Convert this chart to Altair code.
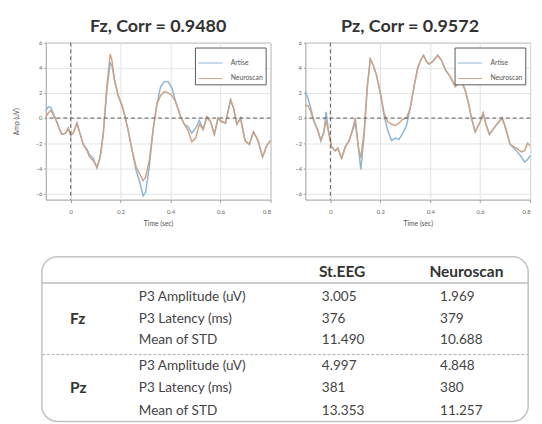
import altair as alt
import pandas as pd

# ---------------- data ----------------
fz_t = [-0.1, -0.09, -0.08, -0.06, -0.045, -0.035, -0.02, -0.01, 0.0, 0.012, 0.025, 0.035,
        0.05, 0.065, 0.075, 0.09, 0.105, 0.118, 0.13, 0.145, 0.158, 0.165, 0.175, 0.19,
        0.205, 0.215, 0.228, 0.246, 0.262, 0.275, 0.29, 0.3, 0.315, 0.33, 0.345, 0.36,
        0.375, 0.39, 0.405, 0.42, 0.44, 0.455, 0.47, 0.485, 0.5, 0.515, 0.53, 0.545,
        0.56, 0.575, 0.59, 0.605, 0.62, 0.64, 0.652, 0.665, 0.68, 0.698, 0.715, 0.732,
        0.75, 0.768, 0.785, 0.8]
fz_artise = [0.6, 0.9, 0.85, -0.1, -0.9, -1.3, -1.2, -0.8, -1.4, -1.1, -0.4, -1.1,
             -2.1, -2.5, -2.9, -3.2, -4.0, -3.1, -1.3, 2.3, 4.4, 4.2, 3.0, 1.8,
             1.0, 0.3, -0.8, -2.6, -4.2, -5.0, -6.2, -5.9, -3.8, -0.9, 1.1, 2.5,
             2.9, 2.9, 2.4, 1.3, 0.1, -0.5, -0.7, -1.2, -0.8, -0.2, -0.9, 0.1,
             -0.3, -1.3, 0.0, -0.3, -0.4, 1.5, 0.8, -0.5, 0.0, -1.8, -2.1, -1.1,
             -1.8, -3.1, -2.2, -1.8]
fz_neuro = [0.1, 0.4, 0.6, -0.1, -0.9, -1.3, -1.2, -0.8, -1.4, -1.1, -0.4, -1.1,
            -2.1, -2.6, -3.1, -3.4, -3.9, -3.1, -1.3, 2.6, 5.1, 4.6, 3.1, 1.8,
            1.0, 0.3, -0.8, -2.6, -3.9, -4.4, -5.0, -4.7, -3.3, -0.9, 1.1, 1.8,
            2.1, 2.0, 1.8, 1.3, 0.1, -0.5, -1.0, -1.9, -1.6, -0.5, -0.9, 0.1,
            -0.3, -1.3, 0.0, -0.3, -0.4, 1.4, 0.8, -0.5, 0.0, -1.8, -2.1, -1.1,
            -1.8, -3.1, -2.2, -1.8]

pz_t = [-0.1, -0.09, -0.08, -0.065, -0.05, -0.038, -0.026, -0.017, -0.007, 0.005, 0.02,
        0.03, 0.045, 0.06, 0.075, 0.085, 0.1, 0.112, 0.122, 0.135, 0.148, 0.16, 0.17,
        0.185, 0.2, 0.215, 0.23, 0.245, 0.26, 0.275, 0.29, 0.305, 0.32, 0.335, 0.35,
        0.362, 0.373, 0.385, 0.395, 0.41, 0.43, 0.445, 0.462, 0.48, 0.5, 0.515, 0.527,
        0.54, 0.553, 0.565, 0.58, 0.6, 0.612, 0.623, 0.637, 0.655, 0.675, 0.688, 0.7,
        0.72, 0.745, 0.765, 0.778, 0.79, 0.8]
pz_artise = [2.1, 1.6, 0.9, -0.3, -1.0, -1.8, -1.1, 0.5, -1.1, -2.3, -2.6,
             -2.4, -3.2, -2.3, -1.8, -1.2, -0.4, -2.3, -4.1, -1.5, 2.5, 4.7, 4.3,
             3.4, 2.0, 0.2, -1.0, -1.8, -1.6, -1.7, -1.2, -0.6, 0.8, 2.5, 4.0,
             4.6, 5.0, 4.5, 4.3, 4.5, 5.0, 4.6, 3.8, 3.3, 2.5, 2.8, 2.9,
             2.2, 1.2, 0.0, -1.1, -0.3, 0.4, -0.5, -1.3, -0.8, -0.3, 0.0, -0.7,
             -2.1, -2.6, -3.1, -3.5, -3.3, -3.0]
pz_neuro = [1.0, 1.0, 0.6, -0.3, -1.0, -1.8, -1.1, -0.2, -1.1, -2.3, -2.6,
            -2.4, -3.2, -2.3, -1.8, -1.2, 0.0, -2.3, -3.2, -1.1, 2.5, 4.7, 4.3,
            3.4, 2.0, 0.4, -0.3, -0.5, -0.6, -0.4, -0.1, 0.0, 0.8, 2.5, 4.0,
            4.6, 5.0, 4.5, 4.3, 4.5, 5.0, 4.6, 3.8, 3.3, 2.5, 2.8, 2.9,
            2.2, 1.2, 0.0, -1.1, -0.3, 0.4, -0.5, -1.3, -0.8, -0.3, 0.0, -0.7,
            -2.1, -2.4, -2.7, -2.6, -2.0, -2.2]

devices = ["Artise", "Neuroscan"]
titles = ["Fz, Corr = 0.9480", "Pz, Corr = 0.9572"]
x_ticks = [0, 0.2, 0.4, 0.6, 0.8]
y_ticks = [-6, -4, -2, 0, 2, 4, 6]

table_cols = ["St.EEG", "Neuroscan"]
table_groups = ["Fz", "Pz"]
table_metrics = ["P3 Amplitude (uV)", "P3 Latency (ms)", "Mean of STD"]
st_eeg_values = ["3.005", "376", "11.490", "4.997", "381", "13.353"]
neuroscan_values = ["1.969", "379", "10.688", "4.848", "380", "11.257"]

# ---------------- style / layout ----------------
FONT = "Lato"
W, H = 232, 162
BLUE, ORANGE = "#8db5d3", "#cfa284"
TW, TH = 498, 170


def panel(t, a, n, title, ytitle, title_dx):
    df = pd.DataFrame({
        "t": list(t) + list(t),
        "v": list(a) + list(n),
        "device": [devices[0]] * len(t) + [devices[1]] * len(t),
    })
    yaxis_kw = dict(values=y_ticks, tickCount=len(y_ticks), labelFontSize=6,
                    labelColor="#666", tickSize=2, tickColor="#999", domain=False,
                    gridColor="#e2e2e2", labelPadding=2, labelOverlap=False)
    if ytitle:
        yaxis_kw.update(title=ytitle, titleFontSize=7, titleColor="#555",
                        titleFontWeight="normal", titleX=-30, titleY=H / 2,
                        titleAngle=270, titleAlign="center", titleBaseline="middle")
    else:
        yaxis_kw.update(title="")
    lines = alt.Chart(df).mark_line(strokeWidth=1.5).encode(
        x=alt.X("t:Q", scale=alt.Scale(domain=[-0.1, 0.8], nice=False, zero=False),
                axis=alt.Axis(values=x_ticks, tickCount=len(x_ticks), format="~g",
                              title="Time (sec)", titleFontSize=7, titleColor="#555",
                              titleFontWeight="normal", labelFontSize=6, labelColor="#666",
                              tickSize=3, tickColor="#999", domain=False,
                              gridColor="#e2e2e2", labelPadding=6, titlePadding=6,
                              labelOverlap=False)),
        y=alt.Y("v:Q", scale=alt.Scale(domain=[-6.5, 6], nice=False, zero=False),
                axis=alt.Axis(**yaxis_kw)),
        color=alt.Color("device:N",
                        scale=alt.Scale(domain=devices, range=[BLUE, ORANGE]),
                        legend=alt.Legend(orient="top-right", title="", offset=5,
                                          strokeColor="#555", fillColor="white",
                                          padding=3, labelFontSize=7, labelColor="#555",
                                          symbolType="stroke", symbolSize=625,
                                          symbolStrokeWidth=1, rowPadding=0,
                                          labelOffset=8, labelFont=FONT)),
        order=alt.Order("device:N"),
    )
    zero = pd.DataFrame({"z": [0]})
    vrule = alt.Chart(zero).mark_rule(strokeDash=[4, 3], color="#555", strokeWidth=1).encode(x="z:Q")
    hrule = alt.Chart(zero).mark_rule(strokeDash=[4, 3], color="#555", strokeWidth=1).encode(y="z:Q")
    return alt.layer(lines, vrule, hrule).properties(
        width=W, height=H,
        title=alt.TitleParams(title, fontSize=18.5, font=FONT, fontWeight="bold",
                              color="#333", offset=5, dx=title_dx),
        view=alt.ViewBackground(stroke="#999", strokeWidth=1),
    )


fz = panel(fz_t, fz_artise, fz_neuro, titles[0], "Amp (uV)", 0)
pz = panel(pz_t, pz_artise, pz_neuro, titles[1], None, -8)

top = alt.hconcat(fz, pz, spacing=36, bounds="flush").resolve_legend(color="independent")

# ---------------- table ----------------
X_GROUP, X_METRIC, X_ST, X_NEURO = 25, 96, 285, 407
X_ST_HEAD, X_NEURO_HEAD = 282, 396
Y_HEAD, Y_LINE, Y_DASH = 16, 27, 101
ROW_Y = [42, 64, 86, 113, 136, 159]
GROUP_Y = [64, 136]

sx = alt.Scale(domain=[0, TW], range=[0, TW])
sy = alt.Scale(domain=[0, TH], range=[0, TH])

one = pd.DataFrame({"k": [0]})
frame = alt.Chart(one).mark_rect(fill="white", fillOpacity=0, stroke="#c4c4c4",
                                 strokeWidth=1.6, cornerRadius=16).encode(
    x=alt.value(-4), x2=alt.value(TW), y=alt.value(0), y2=alt.value(TH))
hline = alt.Chart(one).mark_rule(color="#bdbdbd", strokeWidth=1.5).encode(
    x=alt.value(-4), x2=alt.value(TW), y=alt.value(Y_LINE))
dline = alt.Chart(one).mark_rule(color="#aaa", strokeWidth=1, strokeDash=[3, 2]).encode(
    x=alt.value(-4), x2=alt.value(TW), y=alt.value(Y_DASH))

head_df = pd.DataFrame({"text": table_cols, "x": [X_ST_HEAD, X_NEURO_HEAD], "y": [Y_HEAD, Y_HEAD]})
group_df = pd.DataFrame({"text": table_groups, "x": [X_GROUP] * 2, "y": GROUP_Y})
body_df = pd.DataFrame({
    "text": table_metrics * 2 + st_eeg_values + neuroscan_values,
    "x": [X_METRIC] * 6 + [X_ST] * 6 + [X_NEURO] * 6,
    "y": ROW_Y * 3,
})


def text_layer(df, size, weight, color):
    return alt.Chart(df).mark_text(align="left", baseline="middle", font=FONT,
                                   fontSize=size, fontWeight=weight, color=color).encode(
        x=alt.X("x:Q", scale=sx, axis=None),
        y=alt.Y("y:Q", scale=sy, axis=None),
        text="text:N",
    )


table = alt.layer(
    frame, hline, dline,
    text_layer(head_df, 16, "bold", "#333"),
    text_layer(group_df, 16, "bold", "#333"),
    text_layer(body_df, 14, "normal", "#444"),
).properties(width=TW, height=TH, view=alt.ViewBackground(stroke="transparent"))

chart = alt.vconcat(top, table, spacing=28).properties(
    padding={"left": 4, "top": 2, "right": 0, "bottom": 0}
).configure_axis(labelFont=FONT, titleFont=FONT)

chart.save("out.html", embed_options={"renderer": "svg", "actions": False})
